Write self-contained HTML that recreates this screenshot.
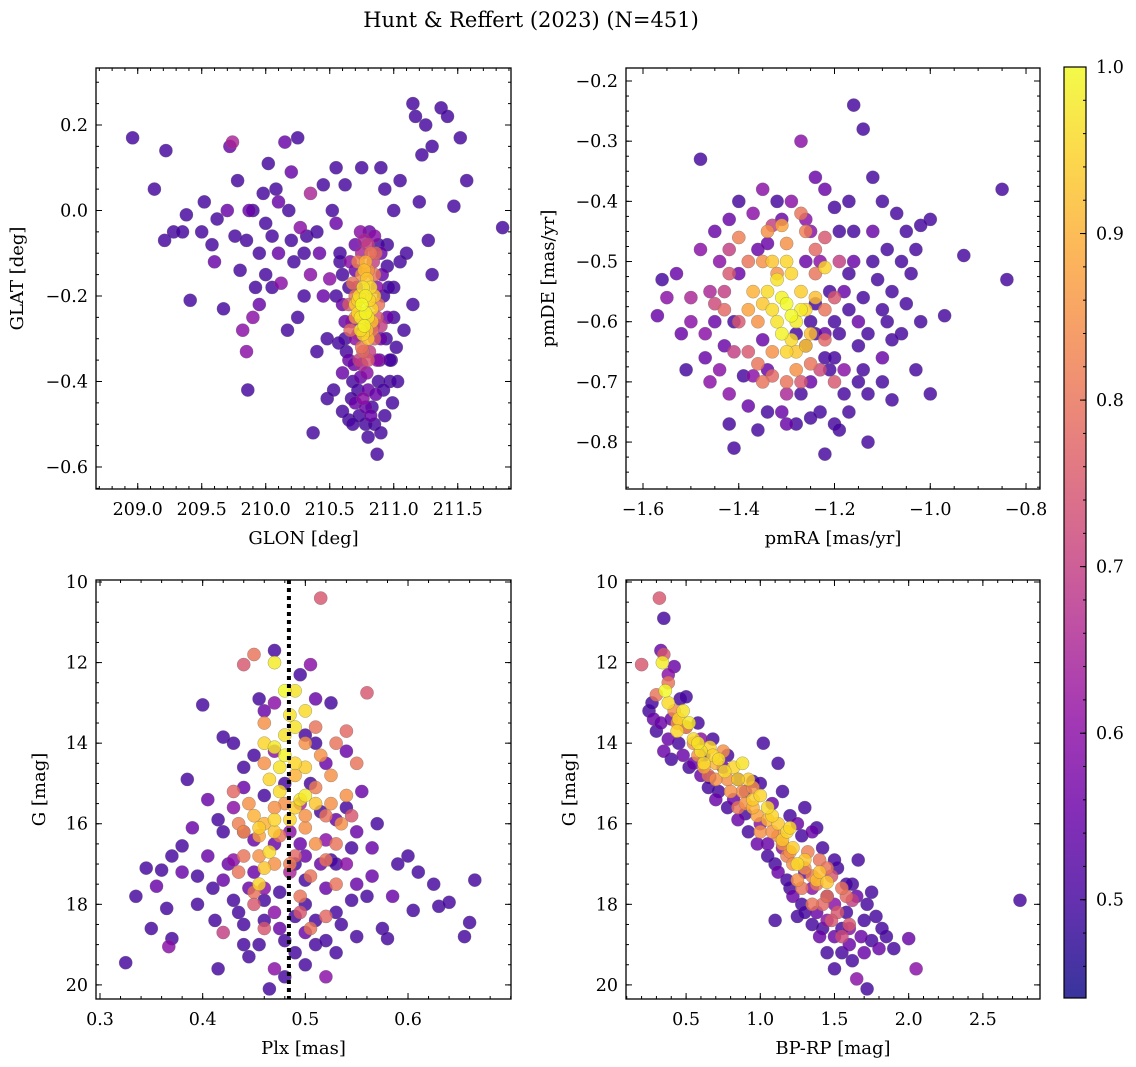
<!DOCTYPE html>
<html><head><meta charset="utf-8"><style>
html,body{margin:0;padding:0;background:#fff;}
svg{display:block;font-family:"DejaVu Serif","Liberation Serif",serif;}
</style></head><body>
<svg id="fig" width="1136" height="1067" viewBox="0 0 1136 1067" xmlns="http://www.w3.org/2000/svg">
<text x="531" y="27" font-size="21" text-anchor="middle">Hunt &amp; Reffert (2023) (N=451)</text>
</svg>
<script>
// ---------- data ----------
const glonGlatProb = [[208.96,0.17,.5],[209.13,0.05,.5],[209.22,0.14,.5],[209.21,-0.07,.5],[209.28,-0.05,.5],[209.35,-0.05,.5],[209.38,-0.01,.5],[209.41,-0.21,.5],[209.52,0.02,.5],[209.58,-0.08,.5],[209.62,-0.02,.5],[209.67,-0.23,.5],[209.7,0.0,.55],[209.72,0.15,.55],[209.74,0.16,.65],[209.76,-0.06,.5],[209.78,0.07,.5],[209.8,-0.14,.5],[209.82,-0.28,.6],[209.85,-0.33,.6],[209.86,-0.42,.5],[209.87,0.0,.55],[209.9,-0.25,.6],[209.92,-0.18,.5],[209.95,-0.22,.55],[209.98,0.04,.5],[210.0,-0.03,.5],[210.02,0.11,.5],[210.05,-0.06,.5],[210.08,0.05,.5],[210.1,-0.1,.55],[210.12,-0.17,.6],[210.15,0.16,.55],[210.17,-0.28,.5],[210.18,0.0,.5],[210.2,0.09,.55],[210.22,-0.12,.5],[210.25,0.17,.5],[210.27,-0.04,.6],[210.3,-0.2,.5],[210.32,-0.06,.5],[210.35,0.04,.65],[210.37,-0.52,.5],[210.4,-0.33,.5],[210.42,-0.1,.55],[210.45,0.06,.5],[210.48,-0.44,.5],[210.5,-0.16,.6],[210.52,0.0,.5],[210.55,-0.03,.55],[210.58,-0.12,.5],[210.6,-0.38,.55],[210.62,0.06,.5],[210.65,-0.49,.5],[210.7,-0.45,.55],[210.75,0.1,.5],[210.78,-0.5,.5],[210.87,-0.57,.5],[210.9,0.1,.5],[210.93,0.05,.5],[210.95,-0.13,.5],[210.98,-0.35,.5],[211.0,0.0,.5],[211.05,0.07,.5],[211.08,-0.28,.5],[211.15,0.25,.5],[211.17,0.22,.5],[211.2,0.02,.5],[211.25,0.2,.5],[211.27,-0.07,.5],[211.3,0.15,.5],[211.37,0.24,.5],[211.42,0.22,.5],[211.47,0.01,.5],[211.52,0.17,.5],[211.57,0.07,.5],[211.85,-0.04,.5],[211.3,-0.15,.5],[211.22,0.13,.5],[210.2,-0.07,.5],[209.95,-0.1,.5],
[210.62,-0.3,.5],[210.65,-0.35,.55],[210.68,-0.4,.5],[210.7,-0.3,.6],[210.72,-0.42,.5],[210.75,-0.36,.65],[210.8,-0.42,.55],[210.83,-0.46,.5],[210.88,-0.4,.5],[210.9,-0.3,.55],[210.92,-0.2,.5],[210.95,-0.25,.55],[210.9,-0.1,.55],[210.85,-0.06,.6],[210.8,-0.08,.7],[210.75,-0.1,.65],[210.7,-0.14,.55],[210.65,-0.18,.5],[210.6,-0.22,.55],[210.67,-0.26,.6],[210.97,-0.4,.5],[210.99,-0.45,.5],[210.78,-0.46,.55],[210.73,-0.48,.5],[210.87,-0.35,.6],[211.02,-0.32,.5],[210.58,-0.1,.5],[210.95,-0.08,.5],[211.0,-0.18,.5],[210.85,-0.5,.5],[210.93,-0.48,.5],
[210.6,-0.15,.5],[210.62,-0.26,.55],[210.63,-0.33,.5],[210.66,-0.12,.6],[210.67,-0.44,.5],[210.69,-0.36,.55],[210.7,-0.08,.55],[210.71,-0.18,.6],[210.72,-0.29,.65],[210.74,-0.05,.6],[210.74,-0.39,.55],[210.76,-0.44,.6],[210.77,-0.07,.65],[210.79,-0.38,.6],[210.81,-0.05,.55],[210.81,-0.33,.7],[210.82,-0.48,.55],[210.84,-0.12,.7],[210.84,-0.27,.65],[210.86,-0.43,.55],[210.87,-0.18,.6],[210.88,-0.08,.5],[210.89,-0.35,.55],[210.91,-0.15,.55],[210.92,-0.42,.5],[210.94,-0.3,.5],[210.96,-0.18,.5],[210.97,-0.35,.5],[211.0,-0.25,.5],[211.03,-0.4,.5],[211.05,-0.12,.5],[210.55,-0.2,.5],[210.57,-0.31,.5],[210.53,-0.42,.5],[210.6,-0.47,.5],[210.68,-0.5,.5],[210.8,-0.53,.5],[210.9,-0.52,.5],
[209.5,-0.05,.5],[209.9,0.0,.5],[210.0,-0.15,.5],[210.1,0.02,.55],[210.3,-0.1,.5],[210.4,-0.05,.5],[210.45,-0.2,.55],[210.48,-0.3,.5],[210.25,-0.25,.5],[210.35,-0.15,.6],[211.1,-0.1,.5],[211.15,-0.22,.5],[210.55,0.1,.5],[209.6,-0.12,.55],[209.85,-0.07,.5],[210.05,-0.18,.5],
[210.7,-0.2,.8],[210.75,-0.15,.85],[210.85,-0.15,.8],[210.88,-0.22,.8],[210.85,-0.3,.75],[210.75,-0.32,.8],[210.7,-0.25,.85],[210.78,-0.12,.9],[210.82,-0.1,.8],[210.8,-0.35,.75],[210.65,-0.22,.75],[210.9,-0.27,.7],
[210.68,-0.17,.8],[210.72,-0.12,.82],[210.76,-0.33,.78],[210.83,-0.28,.8],[210.87,-0.25,.75],[210.66,-0.28,.78],[210.8,-0.14,.85],[210.73,-0.35,.7],[210.86,-0.1,.78],
[210.75,-0.22,1],[210.78,-0.2,.98],[210.8,-0.25,.97],[210.72,-0.24,.95],[210.82,-0.18,.96],[210.77,-0.27,.99],[210.73,-0.2,.96],[210.83,-0.23,.95],[210.79,-0.16,.93],[210.76,-0.29,.95],[210.8,-0.3,.92],[210.7,-0.22,.94],[210.85,-0.2,.93],[210.74,-0.25,.97],
[210.76,-0.18,.97],[210.78,-0.24,.99],[210.74,-0.28,.96],[210.81,-0.21,.95],[210.72,-0.21,.94],[210.79,-0.28,.93],[210.77,-0.14,.92],[210.83,-0.26,.92]];

const pmraPmdeProb = [[-0.85,-0.38,.5],[-0.84,-0.53,.5],[-0.93,-0.49,.5],[-0.97,-0.59,.5],[-1.0,-0.72,.5],[-1.0,-0.43,.5],[-1.03,-0.48,.5],[-1.03,-0.68,.5],[-1.05,-0.45,.5],[-1.06,-0.62,.5],[-1.08,-0.73,.5],[-1.08,-0.55,.5],[-1.1,-0.4,.5],[-1.1,-0.66,.55],[-1.12,-0.36,.5],[-1.12,-0.5,.5],[-1.13,-0.8,.5],[-1.14,-0.28,.5],[-1.15,-0.6,.55],[-1.16,-0.24,.5],[-1.16,-0.45,.5],[-1.17,-0.75,.5],[-1.18,-0.55,.55],[-1.18,-0.68,.6],[-1.2,-0.41,.5],[-1.2,-0.77,.5],[-1.22,-0.82,.5],[-1.22,-0.62,.55],[-1.23,-0.5,.6],[-1.24,-0.36,.55],[-1.25,-0.7,.55],[-1.26,-0.43,.6],[-1.27,-0.3,.6],[-1.28,-0.77,.5],[-1.3,-0.72,.65],[-1.32,-0.4,.5],[-1.34,-0.75,.5],[-1.36,-0.48,.55],[-1.37,-0.69,.6],[-1.38,-0.74,.55],[-1.4,-0.4,.5],[-1.41,-0.81,.5],[-1.42,-0.77,.5],[-1.43,-0.64,.55],[-1.44,-0.5,.6],[-1.45,-0.6,.55],[-1.47,-0.66,.55],[-1.48,-0.33,.5],[-1.48,-0.48,.6],[-1.5,-0.56,.65],[-1.51,-0.68,.5],[-1.53,-0.52,.55],[-1.55,-0.56,.6],[-1.57,-0.59,.55],[-1.56,-0.53,.5],[-1.46,-0.7,.6],[-1.06,-0.5,.5],[-1.14,-0.68,.5],[-1.1,-0.58,.5],[-1.2,-0.6,.5],[-1.17,-0.52,.5],[-1.24,-0.57,.5],[-1.22,-0.66,.5],[-1.15,-0.64,.5],[-1.26,-0.64,.55],
[-1.42,-0.43,.55],[-1.4,-0.52,.55],[-1.39,-0.69,.5],[-1.37,-0.42,.6],[-1.36,-0.78,.5],[-1.34,-0.47,.55],[-1.34,-0.68,.55],[-1.31,-0.43,.55],[-1.31,-0.75,.55],[-1.29,-0.4,.6],[-1.27,-0.72,.5],[-1.26,-0.5,.55],[-1.25,-0.45,.6],[-1.24,-0.62,.5],[-1.23,-0.75,.5],[-1.21,-0.55,.5],[-1.21,-0.68,.5],[-1.19,-0.45,.5],[-1.19,-0.62,.5],[-1.18,-0.72,.5],[-1.17,-0.58,.5],[-1.16,-0.5,.55],[-1.15,-0.7,.5],[-1.14,-0.56,.5],[-1.13,-0.62,.5],[-1.12,-0.45,.55],[-1.11,-0.53,.5],[-1.09,-0.48,.5],[-1.08,-0.63,.5],[-1.07,-0.42,.5],[-1.05,-0.57,.5],[-1.04,-0.52,.5],[-1.02,-0.6,.5],[-1.02,-0.44,.5],[-1.13,-0.72,.5],[-1.2,-0.66,.5],[-1.25,-0.6,.5],[-1.28,-0.62,.5],[-1.35,-0.63,.55],[-1.44,-0.68,.6],[-1.46,-0.55,.65],[-1.47,-0.62,.6],[-1.5,-0.6,.6],[-1.52,-0.62,.55],[-1.45,-0.45,.55],[-1.42,-0.72,.6],[-1.3,-0.77,.55],[-1.25,-0.76,.5],[-1.19,-0.78,.5],[-1.1,-0.7,.5],[-1.35,-0.38,.6],[-1.22,-0.38,.55],[-1.17,-0.4,.5],[-1.41,-0.6,.5],[-1.09,-0.6,.5],
[-1.33,-0.44,.7],[-1.43,-0.55,.7],[-1.4,-0.6,.75],[-1.42,-0.48,.7],[-1.38,-0.65,.75],[-1.35,-0.7,.8],[-1.25,-0.67,.8],[-1.2,-0.7,.75],[-1.22,-0.46,.75],[-1.27,-0.42,.8],[-1.32,-0.52,.85],[-1.35,-0.5,.85],[-1.3,-0.47,.85],[-1.24,-0.52,.8],[-1.22,-0.58,.8],[-1.36,-0.6,.85],[-1.33,-0.65,.85],[-1.28,-0.68,.85],[-1.19,-0.5,.7],[-1.37,-0.55,.9],
[-1.42,-0.52,.75],[-1.43,-0.58,.78],[-1.4,-0.46,.82],[-1.38,-0.5,.8],[-1.38,-0.58,.88],[-1.36,-0.67,.8],[-1.33,-0.69,.78],[-1.3,-0.7,.8],[-1.27,-0.7,.75],[-1.26,-0.45,.82],[-1.24,-0.48,.78],[-1.2,-0.56,.75],[-1.22,-0.63,.78],[-1.34,-0.45,.85],[-1.31,-0.44,.88],[-1.41,-0.65,.7],[-1.45,-0.57,.72],[-1.23,-0.68,.72],
[-1.32,-0.53,.97],[-1.3,-0.57,1],[-1.28,-0.6,.98],[-1.29,-0.63,.96],[-1.26,-0.58,.95],[-1.31,-0.62,.99],[-1.33,-0.58,.96],[-1.27,-0.55,.94],[-1.3,-0.5,.95],[-1.28,-0.65,.93],[-1.25,-0.62,.92],[-1.22,-0.51,.95],[-1.35,-0.57,.93],
[-1.34,-0.55,.96],[-1.32,-0.6,.97],[-1.29,-0.52,.95],[-1.27,-0.58,.98],[-1.29,-0.59,1],[-1.3,-0.65,.95],[-1.26,-0.64,.94],[-1.33,-0.5,.93],[-1.24,-0.56,.92],[-1.31,-0.56,.99]];

const plxGmagProb = [[0.325,19.45,.5],[0.335,17.8,.5],[0.345,17.1,.5],[0.355,17.55,.55],[0.36,17.15,.5],[0.365,18.1,.5],[0.37,18.85,.5],[0.367,19.05,.6],[0.38,16.55,.5],[0.385,14.9,.5],[0.39,16.1,.55],[0.395,17.3,.5],[0.4,13.05,.5],[0.405,15.4,.55],[0.41,17.6,.5],[0.412,18.4,.5],[0.415,19.6,.5],[0.42,13.85,.5],[0.425,17.0,.55],[0.43,15.6,.6],[0.435,18.2,.5],[0.44,14.6,.5],[0.445,19.3,.5],[0.45,16.4,.55],[0.455,12.9,.5],[0.46,17.9,.5],[0.465,20.1,.5],[0.47,11.7,.5],[0.475,18.6,.55],[0.48,15.0,.5],[0.49,19.2,.5],[0.495,12.3,.5],[0.5,16.8,.55],[0.505,12.05,.6],[0.51,19.0,.5],[0.515,15.7,.5],[0.52,17.6,.55],[0.525,13.0,.5],[0.53,18.2,.5],[0.54,14.2,.55],[0.545,16.6,.5],[0.55,18.8,.5],[0.555,15.2,.55],[0.565,17.3,.55],[0.57,16.0,.5],[0.575,18.6,.5],[0.58,18.85,.5],[0.585,17.8,.55],[0.6,16.8,.5],[0.605,18.15,.5],[0.625,17.5,.5],[0.63,18.05,.5],[0.64,17.95,.5],[0.655,18.8,.5],[0.66,18.45,.5],[0.665,17.4,.5],[0.52,19.8,.6],[0.47,19.6,.6],[0.44,16.2,.55],[0.46,15.3,.5],[0.49,17.0,.5],[0.51,14.0,.5],[0.53,15.9,.55],[0.5,18.0,.5],[0.445,17.6,.55],[0.485,16.2,.6],[0.52,16.4,.6],[0.47,14.2,.6],[0.54,17.0,.6],[0.43,16.9,.6],[0.495,15.5,.65],
[0.42,16.2,.5],[0.43,17.9,.5],[0.44,18.5,.5],[0.45,17.2,.55],[0.455,19.0,.5],[0.46,18.4,.5],[0.47,16.5,.55],[0.475,17.7,.5],[0.48,18.9,.5],[0.49,18.3,.5],[0.495,16.5,.55],[0.5,17.4,.5],[0.505,15.0,.5],[0.51,18.4,.5],[0.515,17.0,.55],[0.52,18.9,.5],[0.525,16.9,.5],[0.53,17.0,.5],[0.535,18.5,.5],[0.54,15.6,.5],[0.545,17.9,.5],[0.55,16.2,.55],[0.56,17.8,.5],[0.45,14.3,.5],[0.46,13.2,.55],[0.44,15.1,.55],[0.43,14.0,.5],[0.415,15.9,.5],[0.405,16.8,.55],[0.395,18.0,.5],[0.42,17.4,.55],[0.47,18.2,.6],[0.5,19.5,.5],[0.53,19.2,.5],[0.48,19.8,.5],[0.55,17.5,.55],[0.565,16.6,.55],[0.52,14.5,.55],[0.5,13.8,.5],[0.51,12.9,.55],[0.47,13.0,.6],[0.485,17.2,.65],[0.46,17.6,.6],[0.5,18.7,.55],[0.44,19.0,.5],[0.59,17.0,.5],[0.61,17.2,.5],[0.38,17.2,.55],[0.37,16.8,.5],[0.35,18.6,.5],
[0.515,10.4,.75],[0.44,12.05,.75],[0.45,11.8,.8],[0.56,12.75,.75],[0.53,14.0,.8],[0.525,14.8,.85],[0.54,15.3,.85],[0.45,15.8,.9],[0.44,16.2,.85],[0.435,17.2,.8],[0.5,16.1,.85],[0.52,15.8,.8],[0.51,16.5,.85],[0.48,15.5,.85],[0.46,16.0,.9],[0.535,16.0,.85],[0.5,14.0,.85],[0.51,13.6,.8],[0.49,14.8,.9],[0.53,17.5,.8],[0.455,16.8,.85],[0.47,17.0,.85],[0.495,17.8,.8],[0.45,18.0,.75],[0.505,18.6,.8],[0.42,18.7,.7],[0.55,14.5,.8],[0.46,13.5,.85],
[0.44,16.8,.8],[0.445,15.5,.85],[0.455,16.3,.88],[0.46,14.5,.85],[0.47,15.6,.85],[0.475,16.3,.8],[0.485,17.0,.82],[0.49,16.8,.78],[0.5,15.8,.85],[0.505,17.3,.8],[0.51,15.1,.82],[0.515,14.3,.85],[0.52,16.9,.8],[0.525,15.5,.85],[0.53,16.5,.8],[0.545,15.8,.75],[0.54,13.7,.78],[0.435,16.0,.82],[0.43,15.2,.78],[0.45,17.7,.8],[0.495,18.2,.75],[0.52,18.3,.78],[0.46,18.6,.75],
[0.47,12.0,.98],[0.48,12.7,1],[0.485,13.3,.97],[0.5,13.2,.96],[0.47,14.1,.98],[0.48,14.3,.99],[0.475,14.6,.97],[0.465,14.9,.95],[0.5,15.3,.98],[0.495,15.4,.97],[0.49,15.6,.94],[0.47,15.9,.95],[0.465,16.7,.96],[0.46,17.1,.93],[0.455,17.5,.95],[0.48,13.8,.97],[0.49,14.5,.95],
[0.46,14.0,.95],[0.475,15.2,.96],[0.49,13.6,.97],[0.5,14.6,.94],[0.485,15.9,.95],[0.47,16.2,.93],[0.455,16.1,.94],[0.51,15.5,.93],[0.49,12.7,.97]];
const plxReference = [0.484];

const bprpGmagProb = [[0.35,10.9,.5],[0.32,10.4,.75],[0.33,11.7,.55],[0.2,12.05,.75],[0.42,12.1,.55],[0.38,12.3,.6],[0.46,12.9,.5],[0.5,12.85,.5],[0.25,13.2,.5],[0.28,13.4,.55],[0.3,13.7,.5],[0.35,14.2,.55],[0.45,14.0,.5],[0.55,14.5,.55],[0.62,14.3,.5],[0.66,14.85,.5],[0.72,15.2,.5],[0.82,15.4,.55],[0.9,15.75,.5],[0.95,14.95,.5],[1.02,14.0,.5],[1.12,14.5,.5],[1.15,15.2,.5],[1.3,15.6,.5],[1.25,16.0,.55],[1.38,16.1,.5],[1.05,16.5,.55],[1.1,17.0,.5],[1.2,17.6,.5],[1.28,18.0,.5],[1.35,18.5,.5],[1.45,19.2,.5],[1.5,19.6,.5],[1.55,18.6,.5],[1.6,19.0,.55],[1.62,17.5,.5],[1.72,18.0,.5],[1.78,18.3,.5],[1.8,19.1,.55],[1.9,19.1,.5],[2.0,18.85,.55],[2.05,19.6,.6],[1.65,19.85,.6],[1.72,20.1,.5],[1.58,18.2,.5],[1.45,17.8,.5],[1.52,17.1,.5],[1.66,16.9,.5],[1.75,17.7,.5],[1.85,18.8,.5],[2.75,17.9,.5],[1.4,18.8,.55],[1.1,18.4,.5],[1.25,18.3,.5],[0.9,15.2,.55],[0.75,14.6,.55],[1.0,16.0,.6],[1.15,16.6,.6],[1.3,17.2,.55],[1.5,18.0,.6],[1.6,18.6,.6],[1.7,19.2,.55],[1.45,18.4,.6],[1.35,17.6,.6],[0.6,13.9,.6],[0.5,13.6,.6],[0.4,13.4,.55],
[0.27,13.0,.5],[0.33,13.5,.55],[0.38,13.9,.55],[0.4,14.4,.5],[0.48,14.3,.55],[0.52,14.6,.5],[0.6,14.8,.55],[0.65,15.1,.5],[0.7,15.4,.55],[0.78,15.6,.5],[0.85,15.9,.55],[0.92,16.2,.5],[0.98,16.5,.55],[1.05,16.8,.5],[1.12,17.2,.55],[1.18,17.4,.5],[1.22,17.8,.55],[1.3,18.2,.5],[1.38,18.2,.55],[1.42,18.6,.5],[1.5,18.8,.55],[1.55,19.2,.5],[1.62,19.4,.5],[1.68,18.8,.55],[1.75,18.9,.5],[1.82,18.6,.5],[1.7,18.4,.5],[1.65,17.8,.55],[1.58,17.5,.5],[1.5,16.9,.5],[1.42,16.6,.5],[1.35,16.2,.55],[1.28,16.3,.5],[1.2,15.8,.5],[1.08,15.5,.55],[1.0,15.0,.5],[0.85,14.9,.5],[0.78,14.3,.5],[0.68,13.9,.5],[0.58,13.5,.5],
[0.3,12.8,.8],[0.35,11.8,.75],[0.42,13.2,.85],[0.5,13.6,.85],[0.58,14.3,.85],[0.7,14.5,.9],[0.78,14.9,.85],[0.88,15.2,.85],[0.95,15.6,.9],[1.05,15.9,.9],[1.12,16.3,.85],[1.2,16.7,.85],[1.3,17.1,.85],[1.38,17.5,.8],[1.45,17.8,.8],[1.52,18.2,.75],[1.6,18.5,.75],[1.55,17.6,.8],[1.4,16.9,.8],[1.25,17.4,.85],[1.35,18.0,.8],[1.0,16.2,.85],[0.85,15.6,.8],[0.65,14.8,.8],[1.48,17.3,.75],[1.62,17.9,.7],
[0.38,12.5,.8],[0.44,13.5,.85],[0.55,14.0,.85],[0.62,14.6,.88],[0.7,14.9,.85],[0.8,15.2,.85],[0.9,15.5,.85],[0.98,15.8,.88],[1.08,16.2,.85],[1.15,16.5,.85],[1.22,17.0,.85],[1.28,17.6,.8],[1.35,17.3,.82],[1.42,18.0,.78],[1.48,18.4,.75],[1.55,18.8,.72],[1.58,17.8,.78],[1.45,17.1,.8],[1.32,16.7,.82],[0.75,14.2,.85],[0.95,15.1,.85],[1.18,16.8,.82],
[0.34,12.0,.98],[0.36,12.7,1],[0.48,13.2,.97],[0.52,13.5,.98],[0.55,13.9,.96],[0.6,14.2,.97],[0.66,14.1,.95],[0.72,14.4,.96],[0.82,14.6,.95],[0.88,14.5,.97],[0.92,14.9,.94],[1.0,15.3,.95],[1.05,15.6,.96],[1.12,16.0,.93],[1.18,16.2,.95],[1.22,16.6,.94],[1.25,17.0,.96],[1.38,17.4,.92],[1.45,17.45,.93],[0.45,13.4,.95],[0.62,14.5,.96],
[0.38,13.0,.96],[0.44,13.7,.95],[0.58,14.0,.97],[0.68,14.3,.95],[0.76,14.7,.96],[0.85,14.9,.95],[0.95,15.4,.94],[1.08,15.8,.95],[1.15,16.4,.93],[1.2,16.1,.95],[1.3,16.9,.93],[1.4,17.2,.92]];

const tlXTicks = [209.0,209.5,210.0,210.5,211.0,211.5];
const tlYTicks = [-0.6,-0.4,-0.2,0.0,0.2];
const trXTicks = [-1.6,-1.4,-1.2,-1.0,-0.8];
const trYTicks = [-0.8,-0.7,-0.6,-0.5,-0.4,-0.3,-0.2];
const blXTicks = [0.3,0.4,0.5,0.6];
const gTicks = [10,12,14,16,18,20];
const brXTicks = [0.5,1.0,1.5,2.0,2.5];
const cbTicks = [0.5,0.6,0.7,0.8,0.9,1.0];
const cbRange = [0.441,1.0];

// ---------- rendering ----------
const NS = "http://www.w3.org/2000/svg";
const svg = document.getElementById('fig');
function mk(tag, attrs, parent){ const e=document.createElementNS(NS,tag); for(const k in attrs) e.setAttribute(k,attrs[k]); (parent||svg).appendChild(e); return e; }
const plasma = ["#0d0887","#41049d","#6a00a8","#8f0da4","#b12a90","#cc4778","#e16462","#f2844b","#fca636","#fcce25","#f0f921"];
function hex(h){return [parseInt(h.slice(1,3),16),parseInt(h.slice(3,5),16),parseInt(h.slice(5,7),16)];}
function cmap(p){ let t=(p-cbRange[0])/(cbRange[1]-cbRange[0]); t=Math.max(0,Math.min(1,t)); const f=t*10, i=Math.min(9,Math.floor(f)), r=f-i; const a=hex(plasma[i]), b=hex(plasma[i+1]); return `rgb(${a.map((v,k)=>Math.round(v+(b[k]-v)*r)).join(',')})`; }
function fmt(v,d){ const s=Math.abs(v).toFixed(d); return (v<-1e-9?"\u2212":"")+s; }

function panel(o){
  const g=mk('g',{});  
  const sx=v=>o.x0+(v-o.xd[0])/(o.xd[1]-o.xd[0])*(o.x1-o.x0);
  const sy=v=>o.y1-(v-o.yd[0])/(o.yd[1]-o.yd[0])*(o.y1-o.y0);
  const cid='clip-'+o.name;
  const cp=mk('clipPath',{id:cid},g); mk('rect',{x:o.x0,y:o.y0,width:o.x1-o.x0,height:o.y1-o.y0},cp);
  const pts=mk('g',{'clip-path':`url(#${cid})`},g);
   
  const sorted=o.data.slice().sort((a,b)=>a[2]-b[2]);
  sorted.forEach(d=>{
    const c=mk('circle',{cx:sx(d[0]).toFixed(1),cy:sy(d[1]).toFixed(1),r:6.6,fill:cmap(d[2]),'fill-opacity':0.82,stroke:'#6a6a6a','stroke-opacity':0.6,'stroke-width':0.5},pts);
    
    
  });
  if(o.vline){ o.vline.forEach(v=>{ const l=mk('line',{x1:sx(v),x2:sx(v),y1:o.y0,y2:o.y1,stroke:'#000','stroke-width':4,'stroke-dasharray':'4,4'},g);
      }); }
  mk('rect',{x:o.x0,y:o.y0,width:o.x1-o.x0,height:o.y1-o.y0,fill:'none',stroke:'#000','stroke-width':1.3},g);
  const tk=mk('g',{stroke:'#000','stroke-width':1},g);
  for(let v=Math.ceil(o.xd[0]/o.xm-1e-6)*o.xm; v<=o.xd[1]; v+=o.xm){ const X=sx(v); mk('line',{x1:X,x2:X,y1:o.y1,y2:o.y1-3},tk); mk('line',{x1:X,x2:X,y1:o.y0,y2:o.y0+3},tk); }
  const ylo=Math.min(o.yd[0],o.yd[1]), yhi=Math.max(o.yd[0],o.yd[1]);
  for(let v=Math.ceil(ylo/o.ym-1e-6)*o.ym; v<=yhi; v+=o.ym){ const Y=sy(v); mk('line',{x1:o.x0,x2:o.x0+3,y1:Y,y2:Y},tk); mk('line',{x1:o.x1,x2:o.x1-3,y1:Y,y2:Y},tk); }
  o.xt.forEach(v=>{ const X=sx(v); mk('line',{x1:X,x2:X,y1:o.y1,y2:o.y1-6},tk); mk('line',{x1:X,x2:X,y1:o.y0,y2:o.y0+6},tk);
    const t=mk('text',{x:X,y:o.y1+26,'font-size':17.5,'text-anchor':'middle'},g); t.textContent=fmt(v,o.xdec);
      });
  o.yt.forEach(v=>{ const Y=sy(v); mk('line',{x1:o.x0,x2:o.x0+6,y1:Y,y2:Y},tk); mk('line',{x1:o.x1,x2:o.x1-6,y1:Y,y2:Y},tk);
    const t=mk('text',{x:o.x0-8,y:Y+6,'font-size':17.5,'text-anchor':'end'},g); t.textContent=fmt(v,o.ydec);
      });
  const xl=mk('text',{x:(o.x0+o.x1)/2,y:o.y1+55,'font-size':18,'text-anchor':'middle'},g); xl.textContent=o.xlab;
   
  const yx=o.ylx, ycy=(o.y0+o.y1)/2;
  const yl=mk('text',{x:yx,y:ycy,'font-size':18,'text-anchor':'middle',transform:`rotate(-90 ${yx} ${ycy})`},g); yl.textContent=o.ylab;
   
}

panel({name:'glon-glat-panel',data:glonGlatProb,x0:96,x1:511,y0:68,y1:489,xd:[208.674,211.916],yd:[-0.6515,0.3333],xt:tlXTicks,yt:tlYTicks,xm:0.1,ym:0.05,xdec:1,ydec:1,xlab:'GLON [deg]',ylab:'GLAT [deg]',ylx:23});
panel({name:'pm-panel',data:pmraPmdeProb,x0:626,x1:1040,y0:68,y1:489,xd:[-1.6355,-0.7708],yd:[-0.878,-0.1784],xt:trXTicks,yt:trYTicks,xm:0.05,ym:0.025,xdec:1,ydec:1,xlab:'pmRA [mas/yr]',ylab:'pmDE [mas/yr]',ylx:554});
panel({name:'plx-g-panel',data:plxGmagProb,vline:plxReference,x0:96,x1:511,y0:580,y1:999,xd:[0.2961,0.7003],yd:[20.35,9.95],xt:blXTicks,yt:gTicks,xm:0.02,ym:0.5,xdec:1,ydec:0,xlab:'Plx [mas]',ylab:'G [mag]',ylx:45});
panel({name:'cmd-panel',data:bprpGmagProb,x0:626,x1:1040,y0:580,y1:999,xd:[0.095,2.885],yd:[20.35,9.95],xt:brXTicks,yt:gTicks,xm:0.1,ym:0.5,xdec:1,ydec:0,xlab:'BP-RP [mag]',ylab:'G [mag]',ylx:575});

// colorbar
(function(){
  const x0=1064,x1=1086,y0=67,y1=998;
  const g=mk('g',{});  
  const defs=mk('defs',{},g); const lg=mk('linearGradient',{id:'cbgrad',x1:0,y1:1,x2:0,y2:0},defs);
  plasma.forEach((c,i)=>mk('stop',{offset:(i/10),'stop-color':c,'stop-opacity':0.82},lg));
  mk('rect',{x:x0,y:y0,width:x1-x0,height:y1-y0,fill:'url(#cbgrad)'},g);
  mk('rect',{x:x0,y:y0,width:x1-x0,height:y1-y0,fill:'none',stroke:'#000','stroke-width':1.2},g);
  const sy=v=>y1-(v-cbRange[0])/(cbRange[1]-cbRange[0])*(y1-y0);
  for(let v=0.46; v<=1.0001; v+=0.02){ const Y=sy(v); mk('line',{x1:x1,x2:x1-3,y1:Y,y2:Y,stroke:'#000'},g); }
  cbTicks.forEach(v=>{ const Y=sy(v); mk('line',{x1:x1,x2:x1-6,y1:Y,y2:Y,stroke:'#000'},g);
    const t=mk('text',{x:x1+10,y:Y+6,'font-size':17.5},g); t.textContent=v.toFixed(1);
      });
})();
</script>
</body></html>
